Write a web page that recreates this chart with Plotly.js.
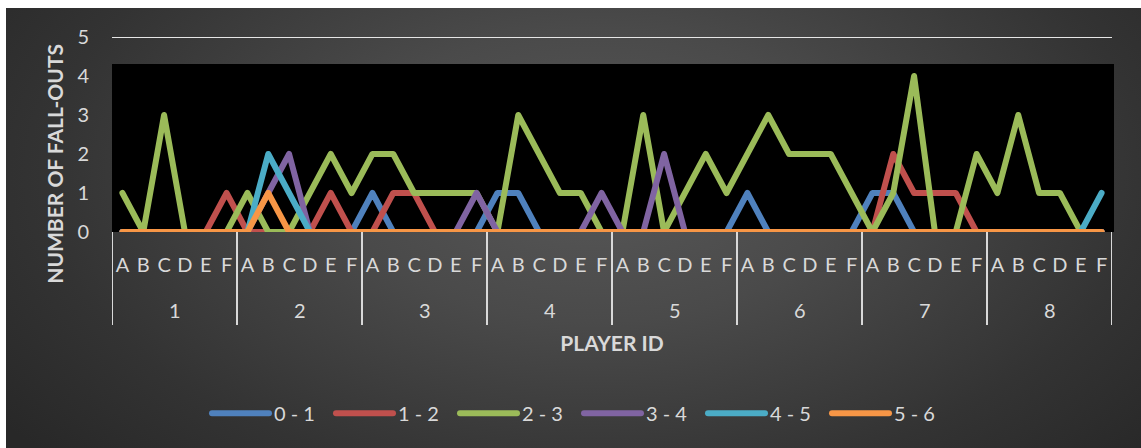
<!DOCTYPE html>
<html>
<head>
<meta charset="utf-8">
<script src="https://cdn.plot.ly/plotly-3.0.1.min.js"></script>
<style>
  html, body { margin: 0; padding: 0; background: #ffffff; }
  #frame {
    position: absolute; left: 6px; top: 8px; width: 1135px; height: 440px;
    background: radial-gradient(ellipse 65% 95% at 52% 38%, #585858 0%, #4a4a4a 35%, #333333 75%, #282828 100%);
  }
  #chart { position: absolute; left: 0; top: 0; width: 1141px; height: 448px; }
  #chart .js-line { stroke-linejoin: round; stroke-linecap: round; }
</style>
</head>
<body>
<div id="frame"></div>
<div id="chart"></div>
<script>
// Player groups and the six positions within each group
const players = ['1', '2', '3', '4', '5', '6', '7', '8'];
const positions = ['A', 'B', 'C', 'D', 'E', 'F'];

// Number of fall-outs per player position, one array per time band
const band01 = [
  0, 0, 0, 0, 0, 0,
  0, 0, 0, 0, 0, 0,
  1, 0, 0, 0, 0, 0,
  1, 1, 0, 0, 0, 0,
  0, 0, 0, 0, 0, 0,
  1, 0, 0, 0, 0, 0,
  1, 1, 0, 0, 0, 0,
  0, 0, 0, 0, 0, 0
];
const band12 = [
  0, 0, 0, 0, 0, 1,
  0, 0, 0, 0, 1, 0,
  0, 1, 1, 0, 0, 0,
  0, 0, 0, 0, 0, 0,
  0, 0, 0, 0, 0, 0,
  0, 0, 0, 0, 0, 0,
  0, 2, 1, 1, 1, 0,
  0, 0, 0, 0, 0, 0
];
const band23 = [
  1, 0, 3, 0, 0, 0,
  1, 0, 0, 1, 2, 1,
  2, 2, 1, 1, 1, 1,
  0, 3, 2, 1, 1, 0,
  0, 3, 0, 1, 2, 1,
  2, 3, 2, 2, 2, 1,
  0, 1, 4, 0, 0, 2,
  1, 3, 1, 1, 0, 0
];
const band34 = [
  0, 0, 0, 0, 0, 0,
  0, 1, 2, 0, 0, 0,
  0, 0, 0, 0, 0, 1,
  0, 0, 0, 0, 0, 1,
  0, 0, 2, 0, 0, 0,
  0, 0, 0, 0, 0, 0,
  0, 0, 0, 0, 0, 0,
  0, 0, 0, 0, 0, 0
];
const band45 = [
  0, 0, 0, 0, 0, 0,
  0, 2, 1, 0, 0, 0,
  0, 0, 0, 0, 0, 0,
  0, 0, 0, 0, 0, 0,
  0, 0, 0, 0, 0, 0,
  0, 0, 0, 0, 0, 0,
  0, 0, 0, 0, 0, 0,
  0, 0, 0, 0, 0, 1
];
const band56 = [
  0, 0, 0, 0, 0, 0,
  0, 1, 0, 0, 0, 0,
  0, 0, 0, 0, 0, 0,
  0, 0, 0, 0, 0, 0,
  0, 0, 0, 0, 0, 0,
  0, 0, 0, 0, 0, 0,
  0, 0, 0, 0, 0, 0,
  0, 0, 0, 0, 0, 0
];

const seriesNames = ['0 - 1', '1 - 2', '2 - 3', '3 - 4', '4 - 5', '5 - 6'];
const seriesValues = [band01, band12, band23, band34, band45, band56];
const seriesColors = ['#4F81BD', '#C0504D', '#9BBB59', '#8064A2', '#4BACC6', '#F79646'];

// One category per player position ("1A", "1B", ...), labelled with the position letter
const categories = [];
const categoryLetters = [];
players.forEach(p => positions.forEach(pos => { categories.push(p + pos); categoryLetters.push(pos); }));

// Second label row: player id centred under its six positions, with dividers between players
const n = positions.length;
const playerCentres = players.map((p, i) => i * n + (n - 1) / 2);
const playerBounds = [];
for (let i = 0; i <= players.length; i++) playerBounds.push(i * n - 0.5);
const xRange = [-0.5, categories.length - 0.5];
const yRange = [0, 5];

const traces = seriesValues.map((vals, i) => ({
  type: 'scatter',
  mode: 'lines',
  name: seriesNames[i],
  x: categories,
  y: vals,
  line: { color: seriesColors[i], width: 6 }
}));

const textColor = '#d9d9d9';
const fontFamily = 'Lato, "Open Sans", sans-serif';
const baseFont = { family: fontFamily, size: 20, color: textColor };
const titleFont = { family: fontFamily, size: 21, color: textColor, weight: 'bold' };

// Black panel behind the lines and the single top gridline
const shapes = [
  {
    type: 'rect', layer: 'below',
    xref: 'paper', x0: 0, x1: 1.002,
    yref: 'y', y0: 0, y1: 4.31,
    fillcolor: '#000000', line: { width: 0 }
  },
  {
    type: 'line', layer: 'below',
    xref: 'paper', x0: 0, x1: 1,
    yref: 'y', y0: yRange[1], y1: yRange[1],
    line: { color: '#e6e6e6', width: 1.75 }
  }
];
// Vertical dividers running through both label rows
playerBounds.forEach(b => shapes.push({
  type: 'line', layer: 'above',
  xref: 'x', x0: b, x1: b,
  yref: 'paper', y0: 0, y1: -0.477,
  line: { color: textColor, width: 2 }
}));

const annotations = players.map((p, i) => ({
  text: p,
  xref: 'x', x: playerCentres[i], xanchor: 'center',
  yref: 'paper', y: -0.40, yanchor: 'middle',
  showarrow: false,
  font: baseFont
}));
annotations.push({
  text: 'NUMBER OF FALL-OUTS',
  textangle: -90,
  xref: 'paper', x: -0.057, xanchor: 'center',
  yref: 'paper', y: 0.35, yanchor: 'middle',
  showarrow: false,
  font: titleFont
});

const layout = {
  width: 1141,
  height: 448,
  paper_bgcolor: 'rgba(0,0,0,0)',
  plot_bgcolor: 'rgba(0,0,0,0)',
  margin: { l: 112, r: 29, t: 37, b: 216 },
  font: baseFont,
  showlegend: true,
  legend: {
    orientation: 'h',
    x: 0.095, xanchor: 'left',
    y: -0.93, yanchor: 'middle',
    itemwidth: 57,
    entrywidth: 52,
    font: baseFont,
    bgcolor: 'rgba(0,0,0,0)'
  },
  xaxis: {
    type: 'category',
    range: xRange,
    tickvals: categories,
    ticktext: categoryLetters,
    showgrid: false,
    zeroline: false,
    showline: false,
    ticks: '',
    ticklabelstandoff: 19,
    tickfont: baseFont,
    title: { text: 'PLAYER ID', font: titleFont, standoff: 61 }
  },
  yaxis: {
    range: yRange,
    dtick: 1,
    showgrid: false,
    zeroline: false,
    showline: false,
    ticks: '',
    ticklabelstandoff: 22,
    tickfont: baseFont
  },
  shapes: shapes,
  annotations: annotations
};

Plotly.newPlot('chart', traces, layout, { displayModeBar: false, staticPlot: true });
</script>
</body>
</html>
